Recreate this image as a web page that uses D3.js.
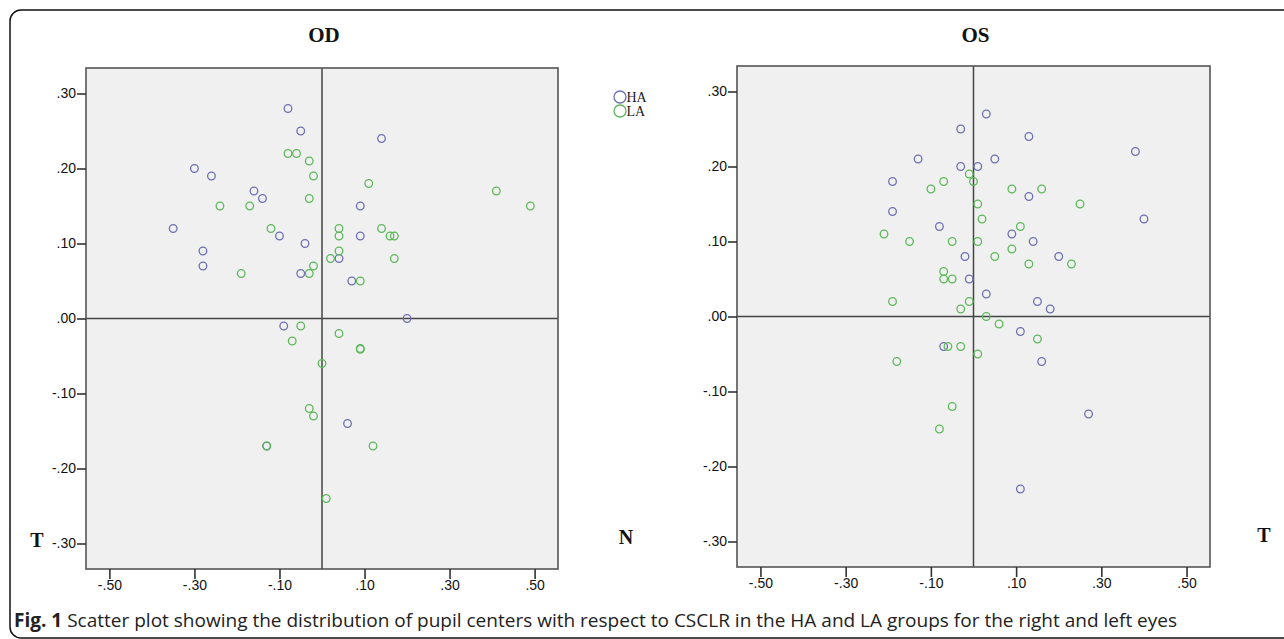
<!DOCTYPE html>
<html lang="en">
	<head>
		<meta charset="utf-8">
		<title>Pupil centers OD / OS</title>
		<script type="text/javascript" src="https://d3js.org/d3.v7.min.js"></script>
		<style type="text/css">
			body { margin: 0; background: #fff; }
			.tick-label { font-family: "Liberation Sans Narrow", "Arial Narrow", "Liberation Sans", sans-serif; fill: #111; }
			.title { font-family: "Liberation Serif", "Times New Roman", serif; font-weight: bold; fill: #111; }
			.caption { font-family: "Open Sans", "Noto Sans", sans-serif; fill: #222; }
		</style>
	</head>
	<body>
		<script type="text/javascript">

			// tick values shared by both panels
			var xTicks = [-0.5, -0.3, -0.1, 0.1, 0.3, 0.5];
			var yTicks = [0.3, 0.2, 0.1, 0, -0.1, -0.2, -0.3];
			var groups = ["HA", "LA"];

			// OD (right eye), [x, y]
			var odHA = [[-0.08,0.28],[-0.05,0.25],[0.14,0.24],[-0.30,0.20],[-0.26,0.19],[-0.16,0.17],[-0.14,0.16],
				[0.09,0.15],[-0.35,0.12],[-0.10,0.11],[0.09,0.11],[-0.04,0.10],[-0.28,0.09],[-0.28,0.07],[-0.05,0.06],
				[0.04,0.08],[0.07,0.05],[0.20,0.00],[-0.09,-0.01],[0.06,-0.14],[-0.13,-0.17]];
			var odLA = [[-0.08,0.22],[-0.06,0.22],[-0.03,0.21],[-0.02,0.19],[0.11,0.18],[0.41,0.17],[-0.03,0.16],
				[-0.24,0.15],[-0.17,0.15],[0.49,0.15],[-0.12,0.12],[0.04,0.12],[0.14,0.12],[0.04,0.11],[0.16,0.11],
				[0.17,0.11],[0.04,0.09],[0.02,0.08],[0.17,0.08],[-0.02,0.07],[-0.19,0.06],[-0.03,0.06],[0.09,0.05],
				[-0.05,-0.01],[0.04,-0.02],[-0.07,-0.03],[0.09,-0.04],[0.09,-0.041],[0.00,-0.06],[-0.03,-0.12],
				[-0.02,-0.13],[-0.13,-0.17],[0.12,-0.17],[0.01,-0.24]];

			// OS (left eye)
			var osHA = [[0.03,0.27],[-0.03,0.25],[0.13,0.24],[0.38,0.22],[-0.13,0.21],[0.05,0.21],[-0.03,0.20],
				[0.01,0.20],[-0.19,0.18],[0.13,0.16],[-0.19,0.14],[0.40,0.13],[-0.08,0.12],[0.09,0.11],[0.14,0.10],
				[-0.02,0.08],[0.20,0.08],[-0.01,0.05],[0.03,0.03],[0.15,0.02],[0.18,0.01],[0.11,-0.02],[-0.07,-0.04],
				[0.16,-0.06],[0.27,-0.13],[0.11,-0.23]];
			var osLA = [[-0.01,0.19],[0.00,0.18],[-0.07,0.18],[-0.10,0.17],[0.09,0.17],[0.16,0.17],[0.01,0.15],
				[0.25,0.15],[0.02,0.13],[0.11,0.12],[-0.21,0.11],[-0.15,0.10],[-0.05,0.10],[0.01,0.10],[0.09,0.09],
				[0.05,0.08],[0.13,0.07],[0.23,0.07],[-0.07,0.06],[-0.07,0.05],[-0.05,0.05],[-0.19,0.02],[-0.01,0.02],
				[-0.03,0.01],[0.03,0.00],[0.06,-0.01],[0.15,-0.03],[-0.06,-0.04],[-0.03,-0.04],[0.01,-0.05],
				[-0.18,-0.06],[-0.05,-0.12],[-0.08,-0.15]];

			var colors = { HA: "#6b6fb3", LA: "#5db85a" };

			var w = 1284, h = 639;
			var svg = d3.select("body").append("svg")
				.attr("width", w)
				.attr("height", h);

			// outer frame with rounded corners
			svg.append("rect")
				.attr("x", 10).attr("y", 10)
				.attr("width", 1400).attr("height", 628)
				.attr("rx", 11)
				.attr("fill", "none")
				.attr("stroke", "#111")
				.attr("stroke-width", 1.5);

			function fmt(d) {
				if (d === 0) return ".00";
				return (d < 0 ? "-" : "") + Math.abs(d).toFixed(2).replace(/^0/, "");
			}

			function panel(box, title, ha, la, leftLab, rightLab) {
				var x = d3.scaleLinear().domain([-0.555, 0.555]).range([box.x0, box.x1]);
				var y = d3.scaleLinear().domain([-0.334, 0.334]).range([box.y1, box.y0]);
				var g = svg.append("g");

				g.append("rect")
					.attr("x", box.x0).attr("y", box.y0)
					.attr("width", box.x1 - box.x0).attr("height", box.y1 - box.y0)
					.attr("fill", "#f0f0f0");

				// reference lines through zero
				g.append("line")
					.attr("x1", x(0)).attr("x2", x(0)).attr("y1", box.y0).attr("y2", box.y1)
					.attr("stroke", "#444").attr("stroke-width", 1.5);
				g.append("line")
					.attr("x1", box.x0).attr("x2", box.x1).attr("y1", y(0)).attr("y2", y(0))
					.attr("stroke", "#444").attr("stroke-width", 1.5);

				var series = [{ key: "HA", pts: ha }, { key: "LA", pts: la }];
				series.forEach(function(s) {
					g.selectAll(null)
						.data(s.pts)
						.enter()
						.append("circle")
						.attr("cx", function(d) { return x(d[0]); })
						.attr("cy", function(d) { return y(d[1]); })
						.attr("r", 3.8)
						.attr("fill", "none")
						.attr("stroke", colors[s.key])
						.attr("stroke-width", 1.3);
				});

				g.append("rect")
					.attr("x", box.x0).attr("y", box.y0)
					.attr("width", box.x1 - box.x0).attr("height", box.y1 - box.y0)
					.attr("fill", "none")
					.attr("stroke", "#555").attr("stroke-width", 1.6);

				var xAxis = g.append("g")
					.attr("transform", "translate(0," + box.y1 + ")")
					.call(d3.axisBottom(x).tickValues(xTicks).tickSize(10).tickFormat(fmt));
				var yAxis = g.append("g")
					.attr("transform", "translate(" + box.x0 + ",0)")
					.call(d3.axisLeft(y).tickValues(yTicks).tickSize(9).tickFormat(fmt));
				[xAxis, yAxis].forEach(function(a) {
					a.select(".domain").remove();
					a.selectAll(".tick line").attr("stroke", "#333").attr("stroke-width", 1.6);
					a.selectAll(".tick text")
						.attr("class", "tick-label")
						.attr("font-size", "14px")
						.attr("font-family", null);
				});
				xAxis.selectAll(".tick text").attr("dy", "0.5em").attr("y", 14);
				yAxis.selectAll(".tick text").attr("x", -10);

				g.append("text")
					.attr("class", "title")
					.attr("x", (box.x0 + box.x1) / 2 + 2)
					.attr("y", 42)
					.attr("text-anchor", "middle")
					.attr("font-size", "21px")
					.text(title);

				if (leftLab) {
					g.append("text").attr("class", "title")
						.attr("x", 37).attr("y", y(-0.3) + 3)
						.attr("text-anchor", "middle").attr("font-size", "20px").text(leftLab);
				}
				if (rightLab) {
					g.append("text").attr("class", "title")
						.attr("x", rightLab.x).attr("y", y(-0.3))
						.attr("text-anchor", "middle").attr("font-size", "20px").text(rightLab.t);
				}
			}

			panel({ x0: 86, x1: 558, y0: 68, y1: 569 }, "OD", odHA, odLA, "T", { x: 626, t: "N" });
			panel({ x0: 737, x1: 1210, y0: 66, y1: 567 }, "OS", osHA, osLA, null, { x: 1264, t: "T" });

			// legend
			var legend = svg.append("g").attr("transform", "translate(614,97)");
			groups.forEach(function(k, i) {
				var row = legend.append("g").attr("transform", "translate(0," + (i * 14) + ")");
				row.append("circle")
					.attr("cx", 6).attr("cy", 0).attr("r", 6)
					.attr("fill", "none").attr("stroke", colors[k]).attr("stroke-width", 1.3);
				row.append("text")
					.attr("x", 12.5).attr("y", 4.5)
					.attr("font-family", "Liberation Serif, serif")
					.attr("font-size", "14px").attr("fill", "#222")
					.text(k);
			});

			// caption
			var cap = svg.append("text")
				.attr("class", "caption")
				.attr("x", 14).attr("y", 627)
				.attr("font-size", "16px");
			cap.append("tspan").attr("font-weight", "bold").text("Fig. 1");
			cap.append("tspan").text(" Scatter plot showing the distribution of pupil centers with respect to CSCLR in the HA and LA groups for the right and left eyes");
			var cw = cap.node().getComputedTextLength();
			cap.attr("font-size", (16 * 1164 / cw).toFixed(2) + "px");

		</script>
	</body>
</html>
